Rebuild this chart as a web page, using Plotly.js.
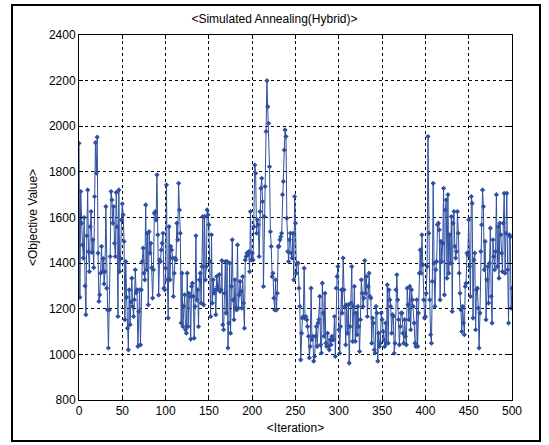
<!DOCTYPE html>
<html>
<head>
<meta charset="utf-8">
<script src="https://cdn.plot.ly/plotly-3.0.1.min.js"></script>
<style>
  html, body { margin: 0; padding: 0; background: #ffffff; }
  #wrap { position: relative; width: 549px; height: 445px; }
  #chart { position: absolute; left: 0; top: 0; width: 549px; height: 445px; }
  #frame { position: absolute; left: 11px; top: 4px; width: 526px; height: 434px;
           border: 2px solid #000; pointer-events: none; }
</style>
</head>
<body>
<div id="wrap">
  <div id="chart"></div>
  <div id="frame"></div>
</div>
<script>
const chartTitle = "&lt;Simulated Annealing(Hybrid)&gt;";
const xTitle = "&lt;Iteration&gt;";
const yTitle = "&lt;Objective Value&gt;";
const xTicks = [0, 50, 100, 150, 200, 250, 300, 350, 400, 450, 500];
const yTicks = [800, 1000, 1200, 1400, 1600, 1800, 2000, 2200, 2400];

const objective0 = [
  1925, 1250, 1714, 1575, 1480, 1422, 1600, 1300, 1174, 1520,
  1721, 1450, 1363, 1560, 1626, 1447, 1502, 1380, 1692, 1928,
  1794, 1952, 1444, 1232, 1261, 1356, 1473, 1363, 1420, 1309,
  1363, 1648, 1290, 1195, 1028, 1195, 1429, 1714, 1677, 1575,
  1648, 1487, 1429, 1710, 1560, 1166, 1721, 1363, 1420, 1590
];
const objective50 = [
  1660, 1612, 1495, 1152, 1407, 1250, 1115, 1020, 1283, 1130,
  1230, 1334, 1210, 1166, 1240, 1371, 1270, 1283, 1035, 1188,
  1283, 1042, 1283, 1407, 1466, 1356, 1327, 1655, 1371, 1531,
  1217, 1538, 1444, 1487, 1380, 1247, 1371, 1619, 1626, 1590,
  1787, 1524, 1260, 1414, 1407, 1458, 1487, 1531, 1290, 1283
];
const objective100 = [
  1378, 1743, 1327, 1159, 1560, 1327, 1473, 1458, 1422, 1254,
  1356, 1422, 1414, 1575, 1502, 1750, 1633, 1531, 1137, 1356,
  1122, 1210, 1261, 1108, 1093, 1356, 1122, 1268, 1254, 1067,
  1298, 1312, 1254, 1071, 1210, 1520, 1239, 1283, 1122, 1327,
  1356, 1225, 1385, 1604, 1217, 1604, 1327, 1385, 1633, 1612
];
const objective150 = [
  1568, 1407, 1166, 1524, 1225, 1327, 1268, 1283, 1174, 1341,
  1298, 1283, 1350, 1276, 1283, 1411, 1130, 1108, 1268, 1407,
  1181, 1407, 1028, 1137, 1400, 1093, 1298, 1502, 1239, 1152,
  1327, 1203, 1195, 1480, 1203, 1261, 1320, 1276, 1203, 1341,
  1225, 1115, 1414, 1429, 1444, 1436, 1451, 1363, 1626, 1414
];
const objective200 = [
  1444, 1414, 1560, 1830, 1794, 1531, 1590, 1568, 1429, 1626,
  1728, 1772, 1670, 1298, 1604, 1736, 1977, 2200, 2086, 2013,
  1823, 1538, 1473, 1341, 1356, 1247, 1195, 1327, 1195, 1268,
  1473, 1473, 1502, 1516, 1531, 1700, 1758, 1896, 1984, 1955,
  1597, 1451, 1407, 1502, 1531, 1444, 1422, 1531, 1327, 1692
];
const objective250 = [
  1575, 1356, 1400, 1400, 1290, 1210, 976, 1093, 1159, 1166,
  1378, 1159, 1166, 1152, 1122, 1079, 985, 1035, 1290, 1064,
  1079, 970, 991, 1079, 1122, 1035, 1137, 1152, 1254, 1042,
  1006, 1312, 1181, 1079, 1268, 1049, 1035, 1093, 1035, 1020,
  1064, 1042, 1079, 1064, 1064, 1166, 991, 1290, 1341, 1385
];
const objective300 = [
  1108, 1005, 1122, 1283, 1181, 1422, 1283, 1210, 1042, 1217,
  1093, 1217, 962, 1122, 1225, 1385, 1057, 1210, 1298, 1057,
  1181, 1086, 1210, 1122, 1013, 1152, 1327, 1268, 1210, 1247,
  1411, 1268, 1341, 1166, 1298, 1356, 1254, 1247, 1049, 1159,
  1137, 1020, 1006, 1210, 1181, 970, 1093, 1035, 1049, 1181
];
const objective350 = [
  1152, 1100, 1064, 1035, 1137, 1049, 1305, 1049, 1283, 1239,
  1210, 1093, 1174, 1166, 1005, 1049, 1283, 1349, 1239, 1152,
  1042, 1122, 1181, 1181, 1093, 1049, 1152, 1079, 1042, 1290,
  1217, 1152, 1298, 1108, 1283, 1239, 1210, 1137, 1049, 1035,
  1239, 1035, 1181, 1356, 1458, 1356, 1524, 1393, 1239, 1159
];
const objective400 = [
  1166, 1268, 1385, 1955, 1531, 1239, 1086, 1049, 1320, 1750,
  1400, 1210, 1371, 1407, 1568, 1575, 1546, 1239, 1495, 1407,
  1487, 1728, 1261, 1633, 1677, 1334, 1700, 1356, 1524, 1400,
  1604, 1188, 1575, 1626, 1473, 1422, 1451, 1626, 1531, 1356,
  1268, 1195, 1100, 1210, 1137, 1086, 1298, 1312, 1444, 1436
];
const objective450 = [
  1590, 1385, 1254, 1692, 1662, 1159, 1414, 1444, 1108, 1283,
  1290, 1203, 1028, 1181, 1451, 1568, 1721, 1648, 1371, 1495,
  1152, 1327, 1385, 1225, 1400, 1553, 1254, 1137, 1502, 1429,
  1371, 1451, 1700, 1385, 1560, 1334, 1575, 1524, 1444, 1363,
  1575, 1706, 1356, 1531, 1706, 1371, 1137, 1524, 1516, 1203,
  1290
];

const objective = [].concat(objective0, objective50, objective100, objective150,
  objective200, objective250, objective300, objective350, objective400, objective450);
const iteration = objective.map((_, i) => i);

const trace = {
  x: iteration,
  y: objective,
  type: 'scatter',
  mode: 'lines+markers',
  line: { color: '#2f4fa0', width: 1 },
  marker: { symbol: 'diamond', size: 4, color: '#2f4fa0' },
  hoverinfo: 'x+y'
};

const fontFam = 'Arial, "Liberation Sans", Helvetica, sans-serif';

const axisCommon = {
  showline: true, linecolor: '#000', linewidth: 1, mirror: 'ticks',
  ticks: 'inside', ticklen: 4, tickcolor: '#000', tickwidth: 1,
  showgrid: true, gridcolor: '#000', gridwidth: 1, griddash: '3px,3px',
  zeroline: false,
  tickfont: { family: fontFam, size: 12, color: '#000' }
};

const layout = {
  width: 549, height: 445,
  margin: { l: 79, r: 37, t: 35, b: 45, pad: 0 },
  paper_bgcolor: '#ffffff', plot_bgcolor: '#ffffff',
  showlegend: false,
  font: { family: fontFam, size: 12, color: '#000' },
  title: { text: chartTitle, font: { family: fontFam, size: 12, color: '#000' },
           x: 0.5, xanchor: 'center', y: 1 - 19 / 445, yanchor: 'middle' },
  xaxis: Object.assign({}, axisCommon, {
    range: [0, 500], tickmode: 'array', tickvals: xTicks, ticktext: xTicks.map(String),
    title: { text: xTitle, font: { family: fontFam, size: 12, color: '#000' }, standoff: 6 }
  }),
  yaxis: Object.assign({}, axisCommon, {
    range: [800, 2400], tickmode: 'array', tickvals: yTicks, ticktext: yTicks.map(String),
    title: { text: yTitle, font: { family: fontFam, size: 12, color: '#000' }, standoff: 8 }
  })
};

Plotly.newPlot('chart', [trace], layout, { displayModeBar: false, staticPlot: true });
</script>
</body>
</html>
